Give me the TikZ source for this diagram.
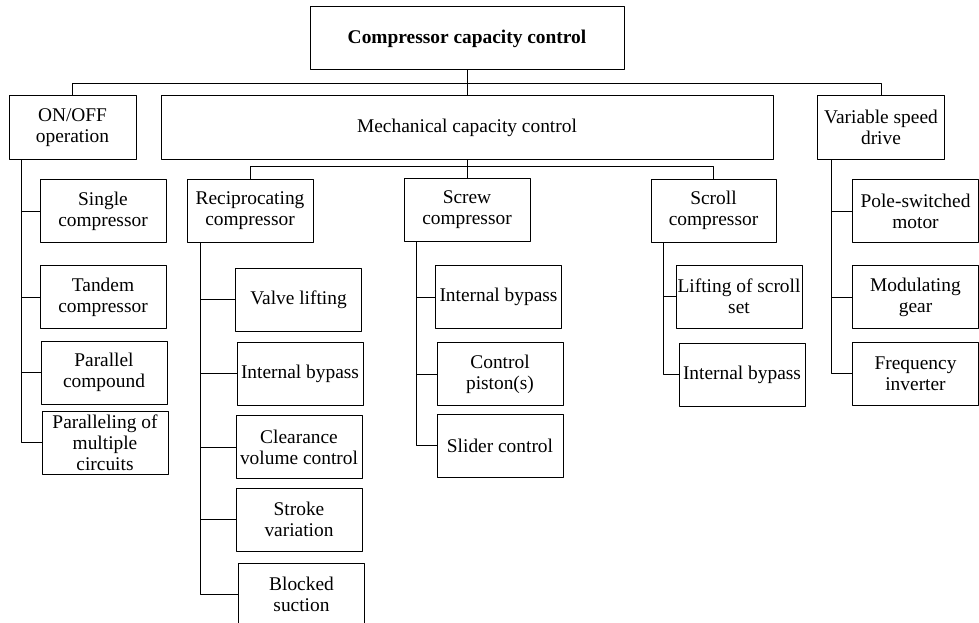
\documentclass[tikz,border=0pt]{standalone}
\usepackage{fontspec}
\setmainfont{Liberation Serif}
\begin{document}
\begin{tikzpicture}[x=1pt,y=-1pt,line join=round,
    box/.style={draw,line width=1pt,minimum width=126,minimum height=63,align=center,inner sep=1pt,
      font=\fontsize{19.4}{21}\selectfont},
    link/.style={line width=1pt}]
    \clip (0,0) rectangle (979,623);

    % top levels
    \node[box,minimum width=314,font=\fontsize{19.4}{21}\selectfont\bfseries] (root) at (467,38.5) {Compressor capacity control};
    \node[box,minimum width=127] (onoff) at (72.5,127.5) {ON/OFF\\operation};
    \node[box,minimum width=612] (mech) at (467,127.5) {Mechanical capacity control};
    \node[box,minimum width=127] (vsd) at (881,127.5) {Variable speed\\drive};

    \node[box] (recip) at (250,210.5) {Reciprocating\\compressor};
    \node[box] (screw) at (467,210) {Screw\\compressor};
    \node[box,minimum width=125] (scroll) at (713.5,210.5) {Scroll\\compressor};

    % ON/OFF
    \node[box] (single) at (103,211) {Single\\compressor};
    \node[box] (tandem) at (103,297) {Tandem\\compressor};
    \node[box] (parcomp) at (104,372.5) {Parallel\\compound};
    \node[box,line width=0.6pt] (paramult) at (105,442.5) {Paralleling of\\multiple\\circuits};

    % reciprocating
    \node[box] (valve) at (298.5,299.5) {Valve lifting};
    \node[box] (recbypass) at (300,373.5) {Internal bypass};
    \node[box] (clear) at (299,447) {Clearance\\volume control};
    \node[box] (stroke) at (299,519.5) {Stroke\\variation};
    \node[box] (blocked) at (301.5,594.5) {Blocked\\suction};

    % screw
    \node[box] (scrbypass) at (498.5,297) {Internal bypass};
    \node[box] (piston) at (500,374) {Control\\piston(s)};
    \node[box] (slider) at (500,445.5) {Slider control};

    % scroll
    \node[box] (lift) at (739,296.5) {Lifting of scroll\\set};
    \node[box] (scrlbypass) at (742,374.5) {Internal bypass};

    % variable speed
    \node[box] (pole) at (915.5,211) {Pole-switched\\motor};
    \node[box] (modgear) at (915.5,297) {Modulating\\gear};
    \node[box] (freq) at (915.5,373.5) {Frequency\\inverter};

    % tree lines
    \coordinate (bus1) at (467,84);
    \draw[link] (root.south) -- (mech.north);
    \draw[link] (onoff.north) -- (onoff.north |- bus1) -| (vsd.north);

    \coordinate (bus2) at (467,166);
    \draw[link] (mech.south) -- (screw.north);
    \draw[link] (recip.north) -- (recip.north |- bus2) -| (scroll.north);

    \coordinate (sp1) at ([xshift=13]onoff.south west);
    \draw[link] (sp1) |- (paramult.west);
    \foreach \n in {single,tandem,parcomp}
        \draw[link] (\n.west) -- (\n.west -| sp1);

    \coordinate (sp2) at ([xshift=14]recip.south west);
    \draw[link] (sp2) |- (blocked.west);
    \foreach \n in {valve,recbypass,clear,stroke}
        \draw[link] (\n.west) -- (\n.west -| sp2);

    \coordinate (sp3) at ([xshift=13]screw.south west);
    \draw[link] (sp3) |- (slider.west);
    \foreach \n in {scrbypass,piston}
        \draw[link] (\n.west) -- (\n.west -| sp3);

    \coordinate (sp4) at ([xshift=13]scroll.south west);
    \draw[link] (sp4) |- (scrlbypass.west);
    \draw[link] (lift.west) -- (lift.west -| sp4);

    \coordinate (sp5) at ([xshift=14]vsd.south west);
    \draw[link] (sp5) |- (freq.west);
    \foreach \n in {pole,modgear}
        \draw[link] (\n.west) -- (\n.west -| sp5);

    %\draw[red] (0,0) rectangle (979,623);
\end{tikzpicture}
\end{document}
